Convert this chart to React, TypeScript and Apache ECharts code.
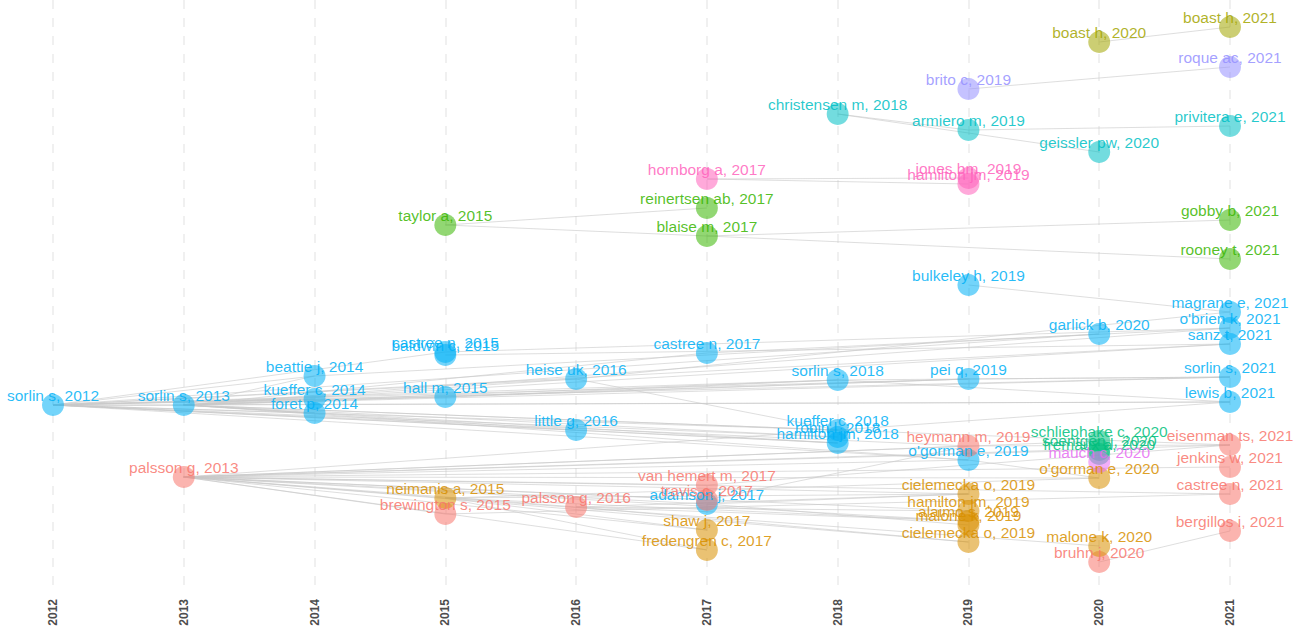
import React, { useEffect, useRef } from "react";
import * as echarts from "echarts";

// ---- Data ----
const yearTicks = [2012, 2013, 2014, 2015, 2016, 2017, 2018, 2019, 2020, 2021];

const nodeLabels = [
  "sorlin s, 2012", "sorlin s, 2013", "beattie j, 2014", "kueffer c, 2014", "foret p, 2014",
  "castree n, 2015", "baldwin c, 2015", "hall m, 2015", "heise uk, 2016", "little g, 2016",
  "castree n, 2017", "adamson j, 2017", "sorlin s, 2018", "kueffer c, 2018", "robin l, 2018",
  "hamilton jm, 2018", "bulkeley h, 2019", "pei q, 2019", "o'gorman e, 2019", "garlick b, 2020",
  "magrane e, 2021", "o'brien k, 2021", "sanz t, 2021", "sorlin s, 2021", "lewis b, 2021",
  "palsson g, 2013", "brewington s, 2015", "palsson g, 2016", "van hemert m, 2017", "travis c, 2017",
  "heymann m, 2019", "bruhn j, 2020", "eisenman ts, 2021", "jenkins w, 2021", "castree n, 2021",
  "bergillos i, 2021", "neimanis a, 2015", "shaw j, 2017", "fredengren c, 2017", "cielemecka o, 2019",
  "hamilton jm, 2019", "alaimo s, 2019", "malone k, 2019", "cielemecka o, 2019", "o'gorman e, 2020",
  "malone k, 2020", "taylor a, 2015", "reinertsen ab, 2017", "blaise m, 2017", "gobby b, 2021",
  "rooney t, 2021", "hornborg a, 2017", "jones bm, 2019", "hamilton jm, 2019", "christensen m, 2018",
  "armiero m, 2019", "geissler pw, 2020", "privitera e, 2021", "brito c, 2019", "roque ac, 2021",
  "boast h, 2020", "boast h, 2021", "schliephake c, 2020", "soentgen j, 2020", "fremaux a, 2020",
  "mauch c, 2020",
];

const nodeYears = [
  2012, 2013, 2014, 2014, 2014, 2015, 2015, 2015, 2016, 2016,
  2017, 2017, 2018, 2018, 2018, 2018, 2019, 2019, 2019, 2020,
  2021, 2021, 2021, 2021, 2021, 2013, 2015, 2016, 2017, 2017,
  2019, 2020, 2021, 2021, 2021, 2021, 2015, 2017, 2017, 2019,
  2019, 2019, 2019, 2019, 2020, 2020, 2015, 2017, 2017, 2021,
  2021, 2017, 2019, 2019, 2018, 2019, 2020, 2021, 2019, 2021,
  2020, 2021, 2020, 2020, 2020, 2020,
];

// vertical layout position (0 = top)
const nodePos = [
  405, 405, 376, 399, 413, 352, 355, 397, 379, 430,
  353, 504, 380, 430, 437, 443, 285, 379, 460, 334,
  312, 328, 344, 377, 402, 477, 514, 507, 485, 500,
  446, 562, 445, 467, 494, 531, 498, 530, 550, 494,
  511, 521, 525, 542, 478, 546, 225, 208, 236, 220,
  259, 179, 178, 184, 114, 130, 152, 126, 89, 67,
  42, 27, 441, 450, 454, 462,
];

const nodeGroup = [
  0, 0, 0, 0, 0, 0, 0, 0, 0, 0,
  0, 0, 0, 0, 0, 0, 0, 0, 0, 0,
  0, 0, 0, 0, 0, 1, 1, 1, 1, 1,
  1, 1, 1, 1, 1, 1, 2, 2, 2, 2,
  2, 2, 2, 2, 2, 2, 3, 3, 3, 3,
  3, 4, 4, 4, 5, 5, 5, 5, 6, 6,
  7, 7, 8, 8, 8, 9,
];

const groupColors = [
  "#00B0F6", "#F8766D", "#D89000", "#39B600", "#FF62BC",
  "#00BFC4", "#9590FF", "#A3A500", "#00BF7D", "#E76BF3",
];

const edgeSources = [
  0, 0, 0, 0, 0, 0, 0, 0, 0, 0, 0, 0, 0, 0, 0, 0, 0, 0, 0,
  1, 1, 1, 1, 1, 1, 1, 1, 1, 1, 1, 1, 1, 1, 1, 1, 1, 1,
  25, 25, 25, 25, 25, 25, 25, 25, 25, 25, 25, 25, 25, 25, 25, 25, 25, 25, 25, 25, 25,
  2, 5, 6, 10, 7, 7, 8, 8, 9, 16, 17, 12, 12,
  46, 46, 48, 48, 51, 51, 54, 54, 55, 58, 60, 31,
  27, 27, 27, 27, 36, 36, 36, 36, 36, 36, 11, 11, 29, 28, 26, 18, 30,
];
const edgeTargets = [
  1, 2, 3, 4, 5, 7, 8, 9, 12, 13, 14, 15, 17, 18, 23, 24, 22, 19, 30,
  3, 4, 2, 7, 8, 9, 10, 12, 13, 14, 15, 17, 18, 21, 22, 23, 24, 32,
  36, 26, 27, 28, 29, 11, 37, 38, 30, 39, 40, 41, 43, 44, 34, 33, 32, 18, 24, 62, 63,
  19, 21, 22, 21, 12, 17, 13, 20, 15, 20, 23, 23, 24,
  47, 48, 49, 50, 52, 53, 55, 56, 57, 59, 61, 35,
  39, 40, 41, 43, 37, 38, 39, 41, 44, 45, 39, 42, 30, 32, 34, 44, 32,
];

export default function App() {
  const ref = useRef<HTMLDivElement>(null);

  useEffect(() => {
    document.body.style.margin = "0";
    if (!ref.current) return;
    const chart = echarts.init(ref.current, undefined, { renderer: "svg" });

    const data = nodeLabels.map((lab, i) => {
      const c = groupColors[nodeGroup[i]];
      return {
        id: String(i),
        name: lab,
        value: [nodeYears[i], nodePos[i]],
        itemStyle: { color: c, opacity: 0.55 },
        label: { color: c },
      };
    });

    const links = edgeSources.map((s, i) => ({ source: s, target: edgeTargets[i] }));

    chart.setOption({
      animation: false,
      backgroundColor: "#ffffff",
      grid: { left: 53, right: 75, top: 0, bottom: 43 },
      xAxis: {
        type: "value",
        min: 2012,
        max: 2021,
        interval: 1,
        axisLine: { show: false },
        axisTick: { show: false },
        axisLabel: {
          rotate: 90,
          margin: 9,
          fontSize: 12,
          fontWeight: "bold",
          color: "#4d4d4d",
          fontFamily: "Liberation Sans, Arial, sans-serif",
          formatter: (v: number) => (yearTicks.includes(v) ? String(v) : ""),
        },
        splitLine: {
          show: true,
          lineStyle: { color: "#ebebeb", width: 1.5, type: [9, 9] },
        },
      },
      yAxis: {
        type: "value",
        inverse: true,
        min: 0,
        max: 590,
        show: false,
        splitLine: { show: false },
      },
      series: [
        {
          type: "graph",
          coordinateSystem: "cartesian2d",
          layout: "none",
          symbol: "circle",
          symbolSize: 22,
          silent: true,
          data,
          links,
          edgeSymbol: ["none", "none"],
          lineStyle: { color: "#c8c8c8", width: 1, opacity: 0.6, curveness: 0 },
          label: {
            show: true,
            position: "inside",
            offset: [0, -10],
            fontSize: 15.5,
            opacity: 0.85,
            fontFamily: "Liberation Sans, Arial, sans-serif",
            formatter: (p: any) => p.name,
          },
          emphasis: { disabled: true },
        },
      ],
    });

    return () => chart.dispose();
  }, []);

  return <div ref={ref} style={{ width: 1305, height: 633 }} />;
}
